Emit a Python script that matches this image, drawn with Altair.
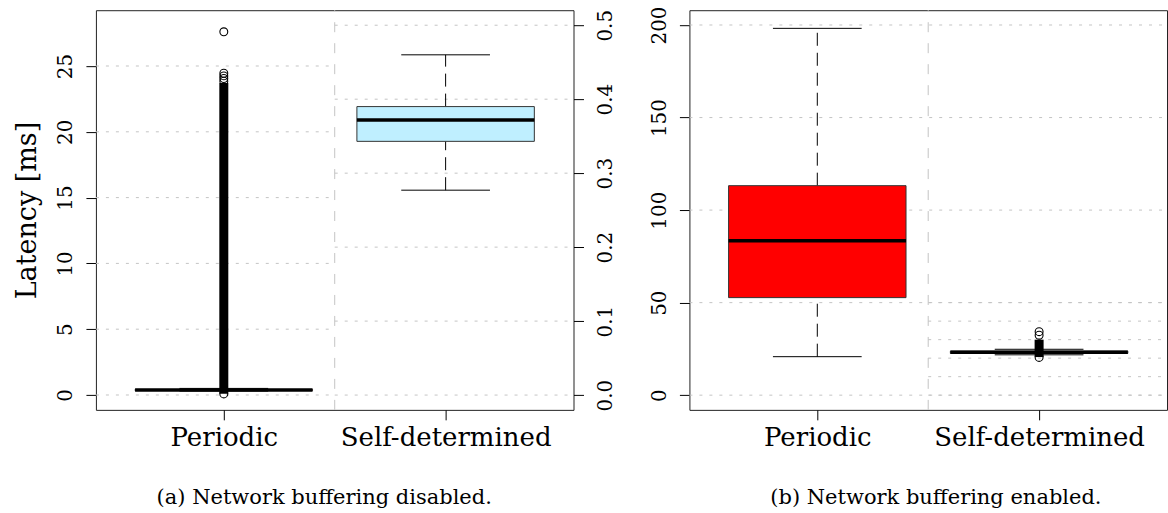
import altair as alt
import pandas as pd

# ---------------- data ----------------
categories = ["Periodic", "Self-determined"]
captions = ["(a) Network buffering disabled.", "(b) Network buffering enabled."]
box_colors = ["#FF0000", "#BFEFFF"]

# panel (a): Periodic on left axis, Self-determined on right axis (ms)
a_lower_whisker = [0.30, 0.277]
a_q1 = [0.34, 0.343]
a_median = [0.38, 0.372]
a_q3 = [0.42, 0.390]
a_upper_whisker = [0.50, 0.460]
a_periodic_outliers = [0.08, 23.85, 24.05, 24.25, 24.45, 27.6]
a_periodic_dense = [0.10, 23.70]          # span of the densely packed outliers

# panel (b): both on one axis (ms)
b_lower_whisker = [20.8, 21.8]
b_q1 = [52.7, 22.6]
b_median = [83.5, 23.2]
b_q3 = [113.2, 23.8]
b_upper_whisker = [198.2, 24.8]
b_self_outliers = [20.4, 32.4, 34.3]
b_self_dense = [20.6, 30.0]

a_left_ticks = [0, 5, 10, 15, 20, 25]
a_right_ticks = [0.0, 0.1, 0.2, 0.3, 0.4, 0.5]
b_ticks = [0, 50, 100, 150, 200]
b_zoom_grid = [0, 10, 20, 30, 40, 50]

a_left_domain = [-1.13, 29.24]
a_right_domain = [-0.0200, 0.5203]
b_domain = [-7.94, 208.0]
x_domain = [0.4234, 2.5766]

# ---------------- style ----------------
FONT = "DejaVu Serif"
W, H = 478, 400
BOX_HALF = 0.4
STAPLE_HALF = 0.2
GRID_COLOR = "#c4c4c4"
positions = [i + 1 for i in range(len(categories))]
divider = sum(positions) / len(positions)

xscale = alt.Scale(domain=x_domain, nice=False, zero=False)
label_expr = " : ".join(
    [f"datum.value == {p} ? '{c}'" for p, c in zip(positions, categories)]) + " : ''"
xaxis = alt.Axis(values=positions, labelExpr=label_expr, title=None, grid=False,
                 domain=False, ticks=True, tickSize=10, tickColor="black",
                 labelFont=FONT, labelFontSize=26, labelColor="black", labelLimit=0,
                 labelBaseline="alphabetic", labelPadding=26, labelAngle=0)


def yaxis(values, orient, pad, title=None, fmt=None):
    kw = dict(values=values, orient=orient, grid=False, domain=False, tickSize=10,
              tickColor="black", labelFont=FONT, labelFontSize=20, labelColor="black",
              labelAngle=270, labelAlign="center", labelBaseline="alphabetic",
              labelPadding=pad, labelFlush=False, labelOverlap=False, labelLimit=0)
    if fmt:
        kw["format"] = fmt
    if title:
        kw.update(title=title, titleFont=FONT, titleFontSize=27, titleFontWeight="normal",
                  titleColor="black", titleAngle=270, titleAlign="center",
                  titleBaseline="alphabetic", titleX=-60.5, titleY=H / 2)
    else:
        kw["title"] = None
    return alt.Axis(**kw)


def box_df(idx, lw, q1, med, q3, uw):
    rows = []
    for i in idx:
        p = positions[i]
        rows.append(dict(cat=categories[i], pos=p, lw=lw[i], q1=q1[i], med=med[i],
                         q3=q3[i], uw=uw[i], color=box_colors[i],
                         xlo=p - BOX_HALF, xhi=p + BOX_HALF,
                         slo=p - STAPLE_HALF, shi=p + STAPLE_HALF))
    return pd.DataFrame(rows)


def X(field):
    return alt.X(field, scale=xscale, axis=xaxis)


def box_layers(df, yscale, axis, outliers=None, dense=None):
    base = alt.Chart(df)
    Y = lambda f: alt.Y(f, scale=yscale, axis=axis)
    layers = []
    layers.append(base.mark_rule(color="black", strokeWidth=1, strokeDash=[13, 7]).encode(
        x=X("pos:Q"), y=Y("q3:Q"), y2="uw:Q"))
    layers.append(base.mark_rule(color="black", strokeWidth=1, strokeDash=[13, 7]).encode(
        x=X("pos:Q"), y=Y("lw:Q"), y2="q1:Q"))
    for f in ["uw", "lw"]:
        layers.append(base.mark_rule(color="black", strokeWidth=1).encode(
            x=X("slo:Q"), x2="shi:Q", y=Y(f"{f}:Q")))
    layers.append(base.mark_rect(stroke="#333333", strokeWidth=1).encode(
        x=X("xlo:Q"), x2="xhi:Q", y=Y("q1:Q"), y2="q3:Q",
        fill=alt.Fill("color:N", scale=None)))
    layers.append(base.mark_rule(color="black", strokeWidth=3.5).encode(
        x=X("xlo:Q"), x2="xhi:Q", y=Y("med:Q")))
    if dense is not None:
        i, span = dense
        ddf = pd.DataFrame([dict(pos=positions[i], lo=span[0], hi=span[1])])
        layers.append(alt.Chart(ddf).mark_rule(color="black", strokeWidth=9).encode(
            x=X("pos:Q"), y=Y("lo:Q"), y2="hi:Q"))
    if outliers is not None:
        i, vals = outliers
        odf = pd.DataFrame(dict(pos=[positions[i]] * len(vals), v=vals))
        layers.append(alt.Chart(odf).mark_point(shape="circle", filled=False, color="black",
                                                 size=62, strokeWidth=1.1, opacity=1).encode(
            x=X("pos:Q"), y=Y("v:Q")))
    return layers


def hgrid(values, x0, x1, yscale, axis):
    g = pd.DataFrame(dict(y=values, x0=[x0] * len(values), x1=[x1] * len(values)))
    return alt.Chart(g).mark_rule(color=GRID_COLOR, strokeWidth=1, strokeDash=[3, 7]).encode(
        x=X("x0:Q"), x2="x1:Q", y=alt.Y("y:Q", scale=yscale, axis=axis))


def vdivider(yscale, y0, y1, axis):
    d = pd.DataFrame([dict(x=divider, y0=y0, y1=y1)])
    return alt.Chart(d).mark_rule(color=GRID_COLOR, strokeWidth=1, strokeDash=[10, 11]).encode(
        x=X("x:Q"), y=alt.Y("y0:Q", scale=yscale, axis=axis), y2="y1:Q")


# ---------------- panel (a) ----------------
ys_al = alt.Scale(domain=a_left_domain, nice=False, zero=False)
ys_ar = alt.Scale(domain=a_right_domain, nice=False, zero=False)
ax_al = yaxis(a_left_ticks, "left", 14, title="Latency [ms]")
ax_ar = yaxis(a_right_ticks, "right", 28, fmt=".1f")
a_df = box_df([0, 1], a_lower_whisker, a_q1, a_median, a_q3, a_upper_whisker)

left_layer = alt.layer(
    hgrid(a_left_ticks, x_domain[0], divider, ys_al, ax_al),
    vdivider(ys_al, a_left_domain[0], a_left_domain[1], ax_al),
    *box_layers(a_df[a_df.cat == categories[0]], ys_al, ax_al,
                outliers=(0, a_periodic_outliers), dense=(0, a_periodic_dense)),
)
right_layer = alt.layer(
    hgrid(a_right_ticks, divider, x_domain[1], ys_ar, ax_ar),
    *box_layers(a_df[a_df.cat == categories[1]], ys_ar, ax_ar),
)
panel_a = alt.layer(left_layer, right_layer).resolve_scale(y="independent").properties(
    width=W, height=H,
    title=alt.TitleParams(captions[0], orient="bottom", font=FONT, fontSize=21,
                          fontWeight="normal", color="black", anchor="middle",
                          frame="group", baseline="alphabetic", offset=53, dx=-10.5))

# ---------------- panel (b) ----------------
ys_b = alt.Scale(domain=b_domain, nice=False, zero=False)
ax_b = yaxis(b_ticks, "left", 14)
b_df = box_df([0, 1], b_lower_whisker, b_q1, b_median, b_q3, b_upper_whisker)
panel_b = alt.layer(
    hgrid(b_ticks, x_domain[0], x_domain[1], ys_b, ax_b),
    hgrid(b_zoom_grid, divider, x_domain[1], ys_b, ax_b),
    vdivider(ys_b, b_domain[0], b_domain[1], ax_b),
    *box_layers(b_df, ys_b, ax_b,
                outliers=(1, b_self_outliers), dense=(1, b_self_dense)),
).properties(
    width=W, height=H,
    title=alt.TitleParams(captions[1], orient="bottom", font=FONT, fontSize=21,
                          fontWeight="normal", color="black", anchor="middle",
                          frame="group", baseline="alphabetic", offset=53, dx=7.7))

chart = alt.hconcat(panel_a, panel_b, spacing=32).properties(
    padding={"left": 13, "top": 5, "right": 0, "bottom": 0},
    background="white",
).configure_view(stroke="#222222", strokeWidth=1).configure_point(size=62)

chart.save("out.html", embed_options={"renderer": "svg", "actions": False})
